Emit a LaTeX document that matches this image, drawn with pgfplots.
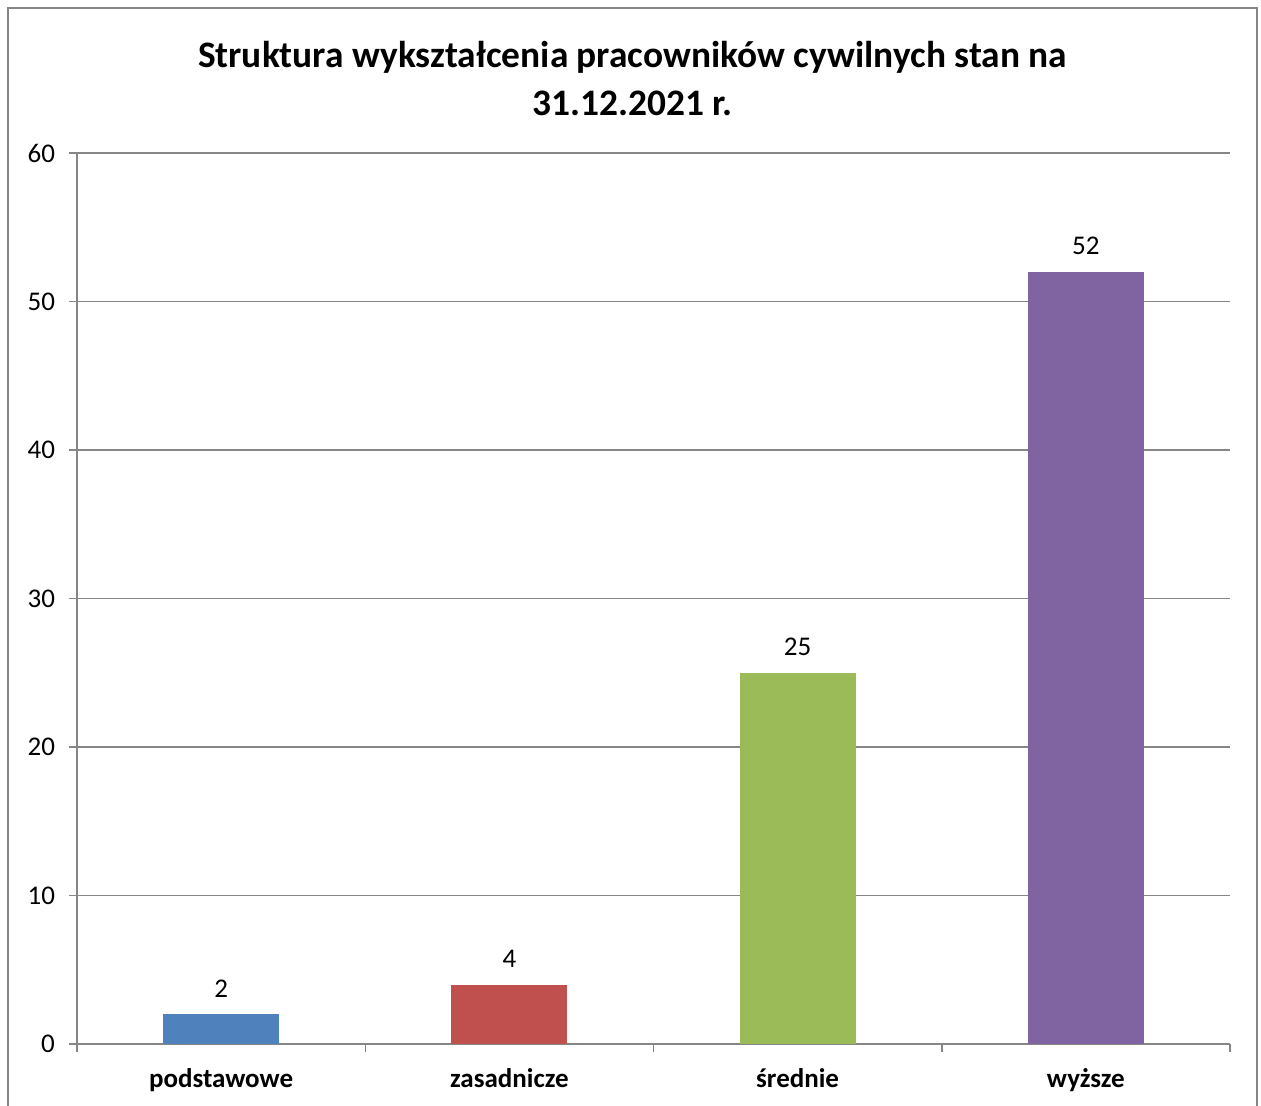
\documentclass[border=0pt]{standalone}
\usepackage{fontspec}
\setmainfont{Carlito}
\usepackage{pgfplots}
\pgfplotsset{compat=1.18}
\definecolor{gridgray}{RGB}{134,134,134}
\definecolor{c1}{RGB}{79,129,189}
\definecolor{c2}{RGB}{192,80,77}
\definecolor{c3}{RGB}{155,187,89}
\definecolor{c4}{RGB}{128,100,162}
\begin{document}
\begin{tikzpicture}
\begin{axis}[
 at={(38.5pt,31pt)}, anchor=south west,
 scale only axis, width=576.5pt, height=445.5pt,
 xmin=-0.5, xmax=3.5, ymin=0, ymax=60,
 axis x line=bottom, axis y line=left,
 axis line style={gridgray, line width=0.75pt, -},
 ytick={0,10,...,60},
 ymajorgrids, grid style={gridgray, line width=0.75pt},
 xtick={-0.5,0.5,1.5,2.5,3.5},
 xticklabels={},
 extra x ticks={0,1,2,3},
 extra x tick labels={podstawowe,zasadnicze,średnie,wyższe},
 extra x tick style={major tick length=0pt, tick label style={font=\fontsize{13.5}{16}\selectfont\bfseries, yshift=-8.5pt}},
 y tick label style={font=\fontsize{13.5}{16}\selectfont, xshift=-3.5pt},
 /pgf/number format/assume math mode=true,
 tick align=outside,
 major tick length=4pt,
 tick style={gridgray, line width=0.75pt},
 ybar, bar width=58pt, bar shift=0pt,
 nodes near coords,
 every node near coord/.append style={font=\fontsize{13.5}{16}\selectfont, text=black, yshift=5pt},
 clip=false,
]
\addplot[fill=c1, draw=none] coordinates {(0,2)};
\addplot[fill=c2, draw=none] coordinates {(1,4)};
\addplot[fill=c3, draw=none] coordinates {(2,25)};
\addplot[fill=c4, draw=none] coordinates {(3,52)};
\end{axis}
\draw[gridgray, line width=1pt] (4pt,0pt) -- (4pt,549pt) -- (628.5pt,549pt) -- (628.5pt,0pt);
\node[align=center, font=\fontsize{18.7}{24}\selectfont\bfseries] at (316.25pt,513.5pt) {Struktura wykształcenia pracowników cywilnych stan na\\31.12.2021 r.};
\pgfresetboundingbox
\path (0,0) rectangle (630.5pt,553pt);
\end{tikzpicture}
\end{document}
